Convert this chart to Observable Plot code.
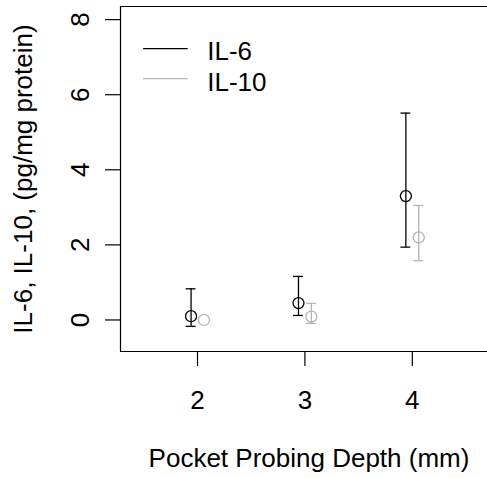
<!DOCTYPE html>
<html>
<head>
<meta charset="utf-8">
<script src="https://cdn.jsdelivr.net/npm/d3@7"></script>
<script src="https://cdn.jsdelivr.net/npm/@observablehq/plot@0.6"></script>
<style>
  html, body { margin: 0; padding: 0; background: #fff; }
  svg { display: block; }
</style>
</head>
<body>
<div id="chart"></div>
<script>
const depths = [2, 3, 4];
const seriesNames = ["IL-6", "IL-10"];
const seriesColors = ["#000000", "#b5b5b5"];
const il6Mean = [0.10, 0.45, 3.30];
const il6Low = [-0.17, 0.12, 1.94];
const il6High = [0.83, 1.16, 5.51];
const il10Mean = [0.00, 0.09, 2.20];
const il10Low = [-0.02, -0.09, 1.58];
const il10High = [0.02, 0.44, 3.05];
const xTicks = [2, 3, 4];
const yTicks = [0, 2, 4, 6, 8];
const xTitle = "Pocket Probing Depth (mm)";
const yTitle = "IL-6, IL-10, (pg/mg protein)";

const offset = 0.06;
const capHalf = 0.046;
const rows = [];
depths.forEach((d, i) => {
  rows.push({series: "IL-6", x: d - offset, mean: il6Mean[i], lo: il6Low[i], hi: il6High[i]});
  rows.push({series: "IL-10", x: d + offset, mean: il10Mean[i], lo: il10Low[i], hi: il10High[i]});
});
const barRows = rows.filter(r => r.hi - r.lo > 0.1);
const capRows = barRows.flatMap(r => [
  {series: r.series, x1: r.x - capHalf, x2: r.x + capHalf, y: r.hi},
  {series: r.series, x1: r.x - capHalf, x2: r.x + capHalf, y: r.lo}
]);

const xDom = [1.283, 4.70];
const yDom = [-0.84, 8.35];
const font = "Liberation Sans, Arial, Helvetica, sans-serif";
const fs = 26;

const legendRows = seriesNames.map((s, i) => ({series: s, y: [7.227, 6.427][i]}));

const chart = Plot.plot({
  width: 487,
  height: 478,
  marginLeft: 120,
  marginRight: 0,
  marginTop: 6,
  marginBottom: 127,
  style: {fontFamily: font, fontSize: fs + "px", background: "#fff", color: "#000"},
  x: {domain: xDom, axis: null},
  y: {domain: yDom, axis: null},
  color: {domain: seriesNames, range: seriesColors},
  marks: [
    Plot.ruleY([yDom[0], yDom[1]], {stroke: "#000", strokeWidth: 1.2}),
    Plot.ruleX([xDom[0]], {stroke: "#000", strokeWidth: 1.2}),
    Plot.axisY({ticks: yTicks, tickSize: 15, tickFormat: () => "", label: null, stroke: "#000", strokeWidth: 1.2}),
    Plot.axisX({ticks: xTicks, tickSize: 15, tickFormat: () => "", label: null, stroke: "#000", strokeWidth: 1.2}),
    Plot.text(yTicks, {x: () => xDom[0], y: d => d, text: d => String(d), rotate: -90, dx: -40, textAnchor: "middle", lineAnchor: "middle", fontSize: fs, fill: "#000"}),
    Plot.text(xTicks, {x: d => d, y: () => yDom[0], text: d => String(d), dy: 49.5, textAnchor: "middle", lineAnchor: "middle", fontSize: fs, fill: "#000"}),
    Plot.text([xTitle], {frameAnchor: "bottom", dx: 5, dy: 107, lineAnchor: "middle", fontSize: fs, fill: "#000"}),
    Plot.text([yTitle], {frameAnchor: "left", rotate: -90, dx: -97, lineAnchor: "middle", textAnchor: "middle", fontSize: fs, fill: "#000"}),
    Plot.ruleX(barRows, {x: "x", y1: "lo", y2: "hi", stroke: "series", strokeWidth: 1.3}),
    Plot.ruleY(capRows, {x1: "x1", x2: "x2", y: "y", stroke: "series", strokeWidth: 1.3}),
    Plot.dot(rows, {x: "x", y: "mean", r: 5.5, stroke: "series", strokeWidth: 1.3, fill: "none"}),
    Plot.ruleY(legendRows, {y: "y", x1: () => 1.498, x2: () => 1.913, stroke: "series", strokeWidth: 1.3}),
    Plot.text(legendRows, {y: "y", x: () => 2.091, dy: 3.5, text: "series", textAnchor: "start", lineAnchor: "middle", fontSize: fs, fill: "#000"})
  ]
});
document.getElementById("chart").appendChild(chart);
</script>
</body>
</html>
